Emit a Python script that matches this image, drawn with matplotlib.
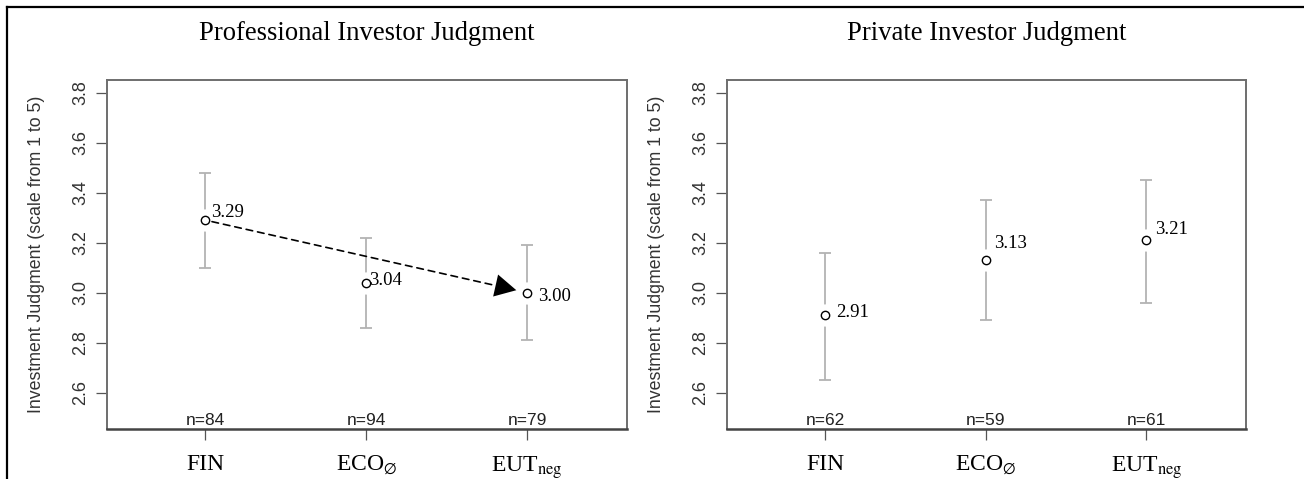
import matplotlib
matplotlib.use("Agg")
import matplotlib.pyplot as plt
from matplotlib.lines import Line2D

# ---------------- data ----------------
categories = ["FIN", r"ECO$_{\varnothing}$", r"EUT$_{\mathrm{neg}}$"]
titles = ["Professional Investor Judgment", "Private Investor Judgment"]

prof_mean = [3.29, 3.04, 3.00]
prof_low = [3.10, 2.86, 2.81]
prof_high = [3.48, 3.22, 3.19]
prof_n = [84, 94, 79]

priv_mean = [2.91, 3.13, 3.21]
priv_low = [2.65, 2.89, 2.96]
priv_high = [3.16, 3.37, 3.45]
priv_n = [62, 59, 61]

yticks = [2.6, 2.8, 3.0, 3.2, 3.4, 3.6, 3.8]
ylabel = "Investment Judgment (scale from 1 to 5)"

# label offsets (pixels) for value annotations
prof_label_off = [(6, 8), (3, 2), (11, -4)]
priv_label_off = [(11, 3), (8, 17), (9, 11)]

plt.rcParams["mathtext.fontset"] = "stix"
SANS = "Liberation Sans"
SERIF = "Liberation Serif"

fig = plt.figure(figsize=(13.04, 4.79), dpi=100)

W, H = 1304, 479
ax_boxes = [(107, 80, 627, 429), (727, 80, 1246, 429)]

panels = [
    (prof_mean, prof_low, prof_high, prof_n, prof_label_off),
    (priv_mean, priv_low, priv_high, priv_n, priv_label_off),
]

for i, ((x0, y0, x1, y1), (mean, low, high, ns, offs)) in enumerate(zip(ax_boxes, panels)):
    ax = fig.add_axes([x0 / W, 1 - y1 / H, (x1 - x0) / W, (y1 - y0) / H])
    xs = list(range(1, len(mean) + 1))
    ax.set_xlim(0.39, 3.62)
    ax.set_ylim(2.455, 3.85)

    # error bars
    err_lo = [m - l for m, l in zip(mean, low)]
    err_hi = [h - m for m, h in zip(mean, high)]
    ax.errorbar(xs, mean, yerr=[err_lo, err_hi], fmt="none", ecolor="#b3b3b3",
                elinewidth=1.3, capsize=4.5, capthick=1.3, zorder=2)
    # white gap around points
    ax.plot(xs, mean, "o", color="white", markersize=16, markeredgewidth=0, zorder=3)
    # arrow for professional panel
    if i == 0:
        ax.annotate("", xy=(xs[2], mean[2]), xytext=(xs[0], mean[0]),
                    arrowprops=dict(arrowstyle="-", linestyle=(0, (4, 3)), color="black",
                                    lw=1.2, shrinkA=5, shrinkB=26), zorder=4)
        ax.annotate("", xy=(xs[2], mean[2]), xytext=(xs[0], mean[0]),
                    arrowprops=dict(arrowstyle="-|>,head_length=0.85,head_width=0.45",
                                    color="black", lw=0, shrinkA=300, shrinkB=8,
                                    mutation_scale=18), zorder=4)
    # points
    ax.plot(xs, mean, "o", markerfacecolor="white", markeredgecolor="black",
            markersize=6, markeredgewidth=1.0, zorder=5)
    # value labels
    for x, m, (dx, dy) in zip(xs, mean, offs):
        ax.annotate(f"{m:.2f}", xy=(x, m), xytext=(dx, dy), textcoords="offset pixels",
                    ha="left", va="center", fontsize=13.5, family=SERIF, zorder=6)
    # n labels
    for x, n in zip(xs, ns):
        ax.text(x, 0.003, f"n={n}", transform=ax.get_xaxis_transform(),
                ha="center", va="bottom", fontsize=12.5, family=SANS, color="#222222")

    # axes styling
    for side in ["top", "right", "left"]:
        ax.spines[side].set_color("#6e6e6e")
        ax.spines[side].set_linewidth(1.4)
    ax.spines["bottom"].set_color("#444444")
    ax.spines["bottom"].set_linewidth(1.8)

    ax.set_yticks(yticks)
    ax.set_yticklabels([f"{t:.1f}" for t in yticks], rotation=90, va="center",
                       fontsize=13, family=SANS, color="#333333")
    ax.tick_params(axis="y", length=8, width=0.9, color="#555555", pad=5)
    ax.set_xticks(xs)
    ax.set_xticklabels(categories, fontsize=17, family=SERIF)
    ax.tick_params(axis="x", length=8, width=0.9, color="#555555", pad=10)

    ax.set_ylabel(ylabel, fontsize=12.8, family=SANS, color="#333333")
    ax.yaxis.set_label_coords(-0.12, 0.5)

    fig.text((x0 + x1) / 2 / W, 1 - 33 / H, titles[i], ha="center", va="center",
             fontsize=19.2, family=SERIF)

# outer frame (top and left edges)
fig.add_artist(Line2D([7 / W, 1.0], [1 - 7 / H, 1 - 7 / H], transform=fig.transFigure,
                      color="black", lw=1.6))
fig.add_artist(Line2D([7 / W, 7 / W], [0.0, 1 - 7 / H], transform=fig.transFigure,
                      color="black", lw=1.6))

fig.savefig("out.png", dpi=100)
